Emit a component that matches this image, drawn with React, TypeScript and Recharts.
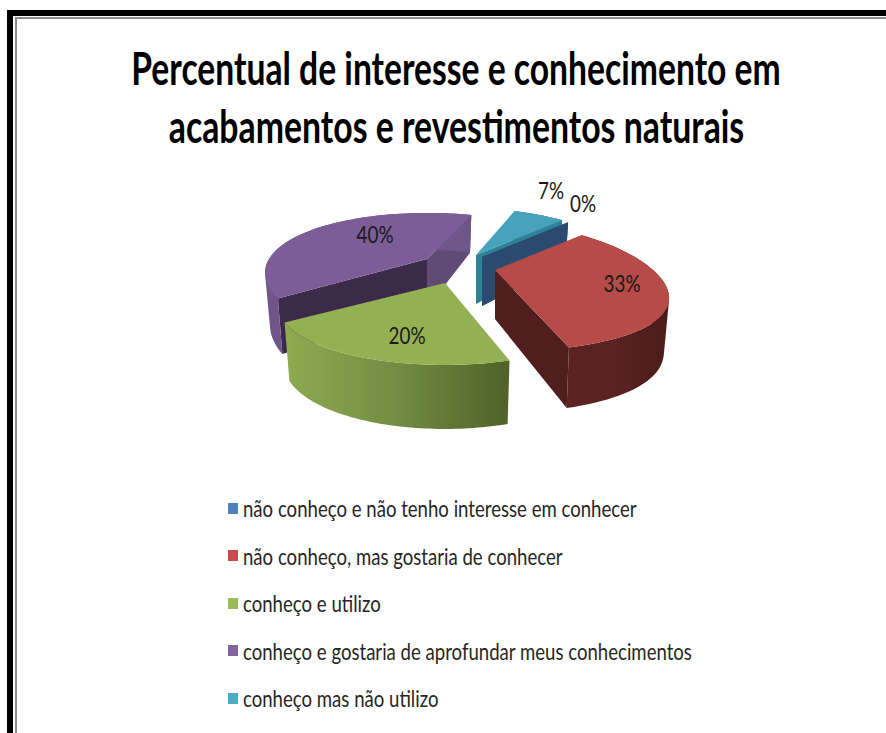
import React from "react";
import { PieChart, Pie, Legend } from "recharts";

const categories = [
  "não conheço e não tenho interesse em conhecer",
  "não conheço, mas gostaria de conhecer",
  "conheço e utilizo",
  "conheço e gostaria de aprofundar meus conhecimentos",
  "conheço mas não utilizo",
];
const values = [0, 33, 20, 40, 7];
const legendColors = ["#4f81bd", "#c0504d", "#9bbb59", "#8064a2", "#4bacc6"];
const titleLines = [
  "Percentual de interesse e conhecimento em",
  "acabamentos e revestimentos naturais",
];

const tableRows = categories.map((name, i) => ({ name, value: values[i], fill: legendColors[i] }));

// drawing style
const topColors = ["#4a76a8", "#b64b47", "#93b052", "#7c5d97", "#47a3bb"];
const startFace = ["#2a4a70", "none", "none", "#3b2a4a", "none"];
const endFace = ["#2a4a70", "#4f1e1d", "none", "#604a76", "#2f8199"];
const wallFill = ["none", "url(#wallRed)", "url(#wallGreen)", "#6f5689", "#2f8199"];
const explode: [number, number][] = [[22, -8], [35, 5], [-15, 18], [-33, -6], [16, -10]];
const extraDepth = [0, 0, 3, 0, 0];
const labelAt: [number, number][] = [[101, -54], [127, 13], [-38, 52], [-52, -25], [75, -65]];
const paintOrder = [4, 0, 3, 1, 2];
const RY = 59 / 158;
const PERSPECTIVE_X = [0.42, 0.42, 0.33, 0.22, 0.42];
const PERSPECTIVE_Y = 0.28;
const BOTTOM_SHRINK = 0.97;

type Pt = [number, number];
function project(deg: number, r: number, ox: number, oy: number, idx: number): Pt {
  const t = ((90 - deg) * Math.PI) / 180;
  const u = Math.sin(t), v = Math.cos(t);
  return [ox + (r * u) / (1 + PERSPECTIVE_X[idx] * v), oy - (r * RY * v) / (1 + PERSPECTIVE_Y * v)];
}
const depthAt = (deg: number) => 49 - 12 * Math.cos(((90 - deg) * Math.PI) / 180);
const toPath = (pts: Pt[]) => "M" + pts.map((p) => p[0].toFixed(1) + "," + p[1].toFixed(1)).join("L") + "Z";
const signedArea = (pts: Pt[]) =>
  pts.reduce((s, p, i) => {
    const q = pts[(i + 1) % pts.length];
    return s + p[0] * q[1] - q[0] * p[1];
  }, 0);

function makeShape(layer: number) {
  return (props: any) => {
    const idx = props.index ?? categories.indexOf(props.name);
    if (idx !== layer) return <g />;
    const { cx, cy, outerRadius: r, startAngle: a0, endAngle: a1 } = props;
    const ox = cx + explode[idx][0];
    const oy = cy + explode[idx][1];
    const arc: Pt[] = [];
    const n = 64;
    for (let i = 0; i <= n; i++) arc.push(project(a0 + ((a1 - a0) * i) / n, r, ox, oy, idx));
    const bottom = arc.map((p, i): Pt => [
      ox + (p[0] - ox) * BOTTOM_SHRINK,
      p[1] + depthAt(a0 + ((a1 - a0) * i) / n) + extraDepth[idx],
    ]);
    let wallPath = "";
    for (let i = 0; i < n; i++) {
      const quad: Pt[] = [arc[i], arc[i + 1], bottom[i + 1], bottom[i]];
      wallPath += toPath(signedArea(quad) >= 0 ? quad : [...quad].reverse());
    }
    const D = 49;
    const a = arc[0], b = arc[n];
    const f0: Pt[] = [[ox, oy], a, bottom[0], [ox, oy + D]];
    const f1: Pt[] = [[ox, oy], b, bottom[n], [ox, oy + D]];
    return (
      <g>
        {startFace[idx] !== "none" && <path d={toPath(f0)} fill={startFace[idx]} />}
        {endFace[idx] !== "none" && <path d={toPath(f1)} fill={endFace[idx]} />}
        {wallFill[idx] !== "none" && <path d={wallPath} fill={wallFill[idx]} />}
        {a0 !== a1 && <path d={toPath([[ox, oy], ...arc])} fill={topColors[idx]} />}
      </g>
    );
  };
}

const renderLabel = (props: any) => {
  const idx = props.index;
  const x = props.cx + explode[idx][0] + labelAt[idx][0];
  const y = props.cy + explode[idx][1] + labelAt[idx][1];
  return (
    <text
      key={idx}
      transform={`translate(${x},${y}) scale(0.82,1)`}
      textAnchor="middle"
      dominantBaseline="central"
      fontFamily="Lato"
      fontSize={23}
      fill="#1a1a1a"
    >
      {values[idx]}%
    </text>
  );
};

const legendContent = (props: any) => {
  const seen = new Set<string>();
  const items = (props.payload || []).filter((e: any) => {
    if (seen.has(e.value)) return false;
    seen.add(e.value);
    return true;
  });
  return (
    <div style={{ position: "relative", width: 886 }}>
      {items.map((e: any, i: number) => (
        <div
          key={i}
          style={{
            position: "absolute",
            left: 228,
            top: 47.5 * i,
            height: 48,
            display: "flex",
            alignItems: "center",
            whiteSpace: "nowrap",
          }}
        >
          <span style={{ width: 10, height: 11, background: e.color, display: "inline-block" }} />
          <span
            style={{
              marginLeft: 5,
              fontFamily: "Lato",
              fontSize: 23,
              color: "#262626",
              transform: "scaleX(0.808)",
              transformOrigin: "left center",
            }}
          >
            {e.value}
          </span>
        </div>
      ))}
    </div>
  );
};

export default function App() {
  return (
    <div style={{ position: "fixed", left: 0, top: 0, width: 886, height: 733, background: "#fff", overflow: "hidden" }}>
      <div style={{ position: "absolute", left: 7, top: 10, width: 879, height: 723, borderLeft: "6px solid #000", borderTop: "6px solid #000", boxSizing: "border-box" }} />
      <div style={{ position: "absolute", left: 15, top: 17, width: 871, height: 716, borderLeft: "2px solid #8c8c8c", borderTop: "2px solid #8c8c8c", boxSizing: "border-box" }} />
      <div style={{ position: "absolute", left: 0, top: 0 }}>
        <PieChart width={886} height={733} margin={{ top: 0, right: 0, bottom: 0, left: 0 }}>
          <defs>
            <linearGradient id="wallRed" x1="0" y1="0" x2="1" y2="0">
              <stop offset="0" stopColor="#5c2322" />
              <stop offset="0.45" stopColor="#5a2221" />
              <stop offset="1" stopColor="#4a1c1b" />
            </linearGradient>
            <linearGradient id="wallGreen" x1="0" y1="0" x2="1" y2="0">
              <stop offset="0" stopColor="#8eab50" />
              <stop offset="0.5" stopColor="#728c43" />
              <stop offset="1" stopColor="#4f6128" />
            </linearGradient>
          </defs>
          <text transform="translate(456,85) scale(0.748,1)" textAnchor="middle" fontFamily="Lato" fontWeight={700} fontSize={45} fill="#000">
            {titleLines[0]}
          </text>
          <text transform="translate(456.5,143) scale(0.751,1)" textAnchor="middle" fontFamily="Lato" fontWeight={700} fontSize={45} fill="#000">
            {titleLines[1]}
          </text>
          {paintOrder.map((layer, li) => {
            const shape = makeShape(layer);
            const last = li === paintOrder.length - 1;
            return (
              <Pie
                key={layer}
                data={tableRows}
                dataKey="value"
                nameKey="name"
                cx={460}
                cy={265}
                outerRadius={158}
                startAngle={45}
                endAngle={-315}
                stroke="none"
                isAnimationActive={false}
                shape={shape}
                legendType={last ? "square" : "none"}
                labelLine={false}
                label={last ? renderLabel : false}
              />
            );
          })}
          <Legend
            content={legendContent}
            itemSorter={null}
            wrapperStyle={{ position: "absolute", left: 0, top: 484, width: 886 }}
          />
        </PieChart>
      </div>
    </div>
  );
}
